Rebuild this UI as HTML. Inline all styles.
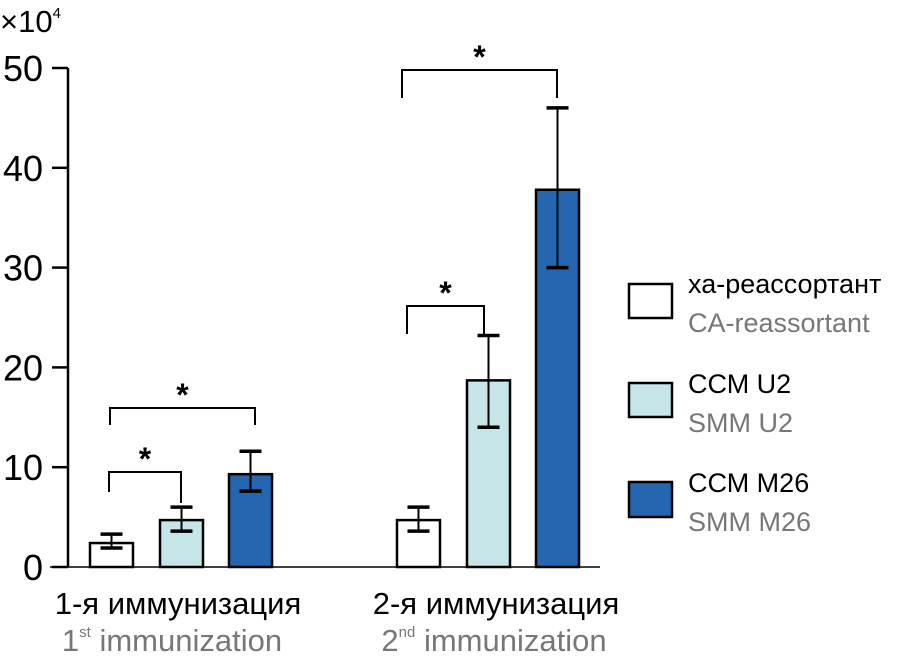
<!DOCTYPE html>
<html><head><meta charset="utf-8"><style>
body{margin:0;background:#fff;}
svg{display:block;font-family:"Liberation Sans",sans-serif;}
</style></head><body>
<svg id="chart" width="908" height="658" viewBox="0 0 908 658">
<g id="axis"></g>
<g id="bars"></g>
<g id="sig"></g>
<text x="0" y="32" font-size="31">×10<tspan font-size="15" dy="-14">4</tspan></text>
<text x="178" y="614" font-size="31" text-anchor="middle">1-я иммунизация</text>
<text x="172" y="651" font-size="31" text-anchor="middle" fill="#777">1<tspan font-size="15" dy="-14">st</tspan><tspan dy="14"> immunization</tspan></text>
<text x="496" y="614" font-size="31" text-anchor="middle">2-я иммунизация</text>
<text x="494" y="651" font-size="31" text-anchor="middle" fill="#777">2<tspan font-size="15" dy="-14">nd</tspan><tspan dy="14"> immunization</tspan></text>
<g>
<rect x="629" y="284" width="43" height="34" fill="#fff" stroke="#000" stroke-width="2.5"/>
<text x="688" y="293" font-size="27">ха-реассортант</text>
<text x="688" y="332" font-size="27" fill="#777">CA-reassortant</text>
<rect x="629" y="383" width="43" height="34" fill="#c5e5e9" stroke="#000" stroke-width="2.5"/>
<text x="688" y="393" font-size="27">ССМ U2</text>
<text x="688" y="432" font-size="27" fill="#777">SMM U2</text>
<rect x="629" y="482" width="43" height="35" fill="#2566b0" stroke="#000" stroke-width="2.5"/>
<text x="688" y="492" font-size="27">ССМ M26</text>
<text x="688" y="531" font-size="27" fill="#777">SMM M26</text>
</g>
</svg>
<script>
const ticks=[0,10,20,30,40,50];
const barX=[90,160,229,397,467,536];
const values=[2.4,4.7,9.3,4.7,18.7,37.8];
const errLow=[1.9,3.6,7.6,3.6,14.0,30.0];
const errHigh=[3.3,6.0,11.6,6.0,23.2,46.0];
const fills=["#fff","#c5e5e9","#2566b0","#fff","#c5e5e9","#2566b0"];
const NS="http://www.w3.org/2000/svg";
const y=v=>567-v*9.98;
function mk(t,a,p){const e=document.createElementNS(NS,t);for(const k in a)e.setAttribute(k,a[k]);p.appendChild(e);return e;}
const ax=document.getElementById('axis');
let l=mk('line',{x1:68,y1:y(0),x2:68,y2:y(50),stroke:'#000','stroke-width':2.5},ax);


l=mk('line',{x1:50,y1:y(0),x2:600,y2:y(0),stroke:'#000','stroke-width':1.5},ax);


ticks.forEach(t=>{
 const tk=mk('line',{x1:52,y1:y(t),x2:68,y2:y(t),stroke:'#000','stroke-width':2.5},ax);
 
 
 const tx=mk('text',{x:43,y:y(t)+13,'font-size':36,'text-anchor':'end'},ax);
 tx.textContent=t;
 
 
});
const bg=document.getElementById('bars');
values.forEach((v,i)=>{
 const r=mk('rect',{x:barX[i],y:y(v),width:43,height:y(0)-y(v),fill:fills[i],stroke:'#000','stroke-width':2.5},bg);
 
 
 const cx=barX[i]+21.5;
 const e=mk('path',{d:`M${cx} ${y(errLow[i])}V${y(errHigh[i])}`,stroke:'#000','stroke-width':2,fill:'none'},bg);
 
 
 const c=mk('path',{d:`M${cx-11} ${y(errLow[i])}H${cx+11}M${cx-11} ${y(errHigh[i])}H${cx+11}`,stroke:'#000','stroke-width':3.5,fill:'none'},bg);
 
 
});
const sg=document.getElementById('sig');
const brackets=[[110,255,408,425,425],[109,181,472,492,503],[402,557,70,98,98],[407,484,306,334,336]];
brackets.forEach(b=>{
 const p=mk('path',{d:`M${b[0]} ${b[3]}V${b[2]}H${b[1]}V${b[4]}`,stroke:'#000','stroke-width':2,fill:'none'},sg);
 
 
 const s=mk('text',{x:(b[0]+b[1])/2,y:b[2]-2,'font-size':32,'font-weight':'bold','text-anchor':'middle'},sg);
 s.textContent='*';
 
 
});
</script>
</body></html>
